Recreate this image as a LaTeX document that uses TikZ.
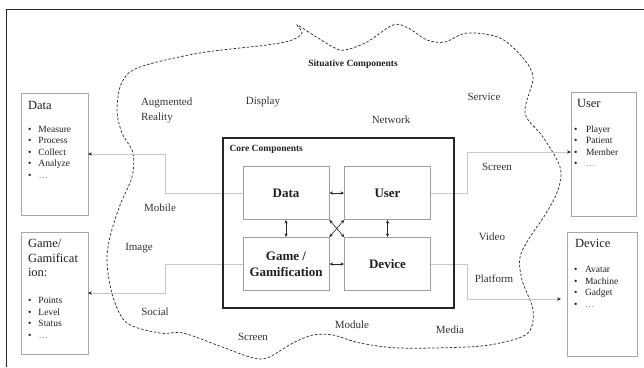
\documentclass[tikz,border=0pt]{standalone}
\usepackage{fontspec}
\setmainfont{Liberation Serif}
\usetikzlibrary{arrows.meta,shadows}
\begin{document}
\begin{tikzpicture}[x=1pt,y=-1pt,
  every node/.style={inner sep=0pt, outer sep=0pt, text=black!88},
  outbox/.style={draw=black!35, line width=0.7pt, fill=white,
    drop shadow={shadow xshift=0.9pt, shadow yshift=-0.9pt, fill=black!22, opacity=1}},
  inbox/.style={draw=black!38, line width=0.7pt, fill=white, minimum width=86pt, minimum height=53pt,
    font=\bfseries\fontsize{13}{15.7}\selectfont, align=center},
  ttl/.style={font=\fontsize{12.5}{14.5}\selectfont, anchor=base west},
  item/.style={font=\fontsize{9.5}{11.5}\selectfont, anchor=base west},
  word/.style={font=\fontsize{11}{13}\selectfont, anchor=base, text=black!80},
  bi/.style={draw=black!85, line width=0.6pt, {Stealth[length=3.4pt,width=3.4pt]}-{Stealth[length=3.4pt,width=3.4pt]}, shorten <=0.6pt, shorten >=0.6pt},
  conn/.style={draw=black!22, line width=0.6pt, -{Stealth[length=4pt,width=3.4pt,color=black!85]}},
  cloudline/.style={draw=black!80, line width=0.75pt, dash pattern=on 2.6pt off 1.8pt}
]
\useasboundingbox (0,0) rectangle (644,367);
% frame
\draw[black!85, line width=0.9pt] (6,367) -- (6,9) -- (644,9);

% cloud of situative components
\draw[cloudline] plot[smooth cycle, tension=0.55] coordinates {
 (297,25) (307,31) (333,47) (345,50) (367,42) (393,25) (408,28) (427,40) (445,42)
 (467,33) (500,38) (523,58) (533,78) (525,113) (543,137) (560,167) (558,190)
 (545,215) (530,237) (520,257) (522,280) (533,310) (528,333) (500,343) (467,347)
 (400,348) (360,343) (333,335) (313,335) (293,343) (267,358) (250,357) (217,345)
 (183,333) (160,333) (127,323) (113,297) (107,263) (110,237) (120,205) (132,177)
 (133,153) (122,133) (117,110) (122,82) (140,67) (200,53) (267,45) (292,40) (302,33)};

\node[font=\bfseries\fontsize{9.5}{11}\selectfont, anchor=base] (sitT) at (353,66.5) {Situative Components};

% situative words
\node[word, anchor=base west] (augT) at (141,105.5) {Augmented};
\node[word, anchor=base west] (realT) at (141,120) {Reality};
\node[word] (dispT) at (263,104) {Display};
\node[word] (netT) at (391,123.5) {Network};
\node[word] (servT) at (484,100.5) {Service};
\node[word] (scrRT) at (497,170.5) {Screen};
\node[word] (mobT) at (160,211.5) {Mobile};
\node[word] (imgT) at (139,250.5) {Image};
\node[word] (vidT) at (492,240.5) {Video};
\node[word] (platT) at (494,282.5) {Platform};
\node[word] (socT) at (155,315.5) {Social};
\node[word] (scrBT) at (253,340.5) {Screen};
\node[word] (modT) at (352,328.5) {Module};
\node[word] (medT) at (450,333.5) {Media};

% outer boxes
\node[outbox, minimum width=67pt, minimum height=122pt] (dataOut) at (54.5,154) {};
\node[outbox, minimum width=67pt, minimum height=122pt] (gameOut) at (54.5,293) {};
\node[outbox, minimum width=65pt, minimum height=124pt] (userOut) at (603.5,154) {};
\node[outbox, minimum width=70pt, minimum height=124pt] (devOut) at (602,294) {};

\node[ttl] (dataT) at (28,109) {Data};
\foreach \t [count=\i] in {Measure,Process,Collect,Analyze,{\color{black!50}…}}
  \node[item] (dItem\i) at (28,{132+11.5*(\i-1)}) {\makebox[10.5pt][l]{•}\t};

\node[ttl] (gameT1) at (28,247.5) {Game/};
\node[ttl] (gameT2) at (28,262) {Gamificat};
\node[ttl] (gameT3) at (28,276.5) {ion:};
\foreach \t [count=\i] in {Points,Level,Status,{\color{black!50}…}}
  \node[item] (gItem\i) at (28,{303.5+11.5*(\i-1)}) {\makebox[10.5pt][l]{•}\t};

\node[ttl] (userT) at (577,107.5) {User};
\foreach \t [count=\i] in {Player,Patient,Member,{\color{black!50}…}}
  \node[item] (uItem\i) at (574,{132+11.5*(\i-1)}) {\makebox[12pt][l]{•}\t};

\node[ttl] (devT) at (575,247.5) {Device};
\foreach \t [count=\i] in {Avatar,Machine,Gadget,{\color{black!50}…}}
  \node[item] (vItem\i) at (574,{272.5+11.5*(\i-1)}) {\makebox[11pt][l]{•}\t};

% bend positions
\coordinate (bl) at (165,0);
\coordinate (br) at (467.5,0);

% inner boxes
\node[inbox] (dataIn) at (286,193) {Data};
\node[inbox] (userIn) at (387.5,193) {User};
\node[inbox] (gameIn) at (286,264) {Game /\\Gamification};
\node[inbox] (devIn) at (387.5,264) {Device};

% connectors to outer boxes
\draw[conn] (dataIn.west) -- (dataIn.west -| bl) |- (dataOut.east);
\draw[conn] (gameIn.west) -- (gameIn.west -| bl) |- (gameOut.east);
\draw[conn] (userIn.east) -- (userIn.east -| br) |- ([yshift=2pt]userOut.west);
\draw[conn] (devIn.east) -- (devIn.east -| br) |- ([xshift=-6pt,yshift=-5pt]devOut.west);

% core box
\node[draw=black!85, line width=1.3pt, minimum width=231pt, minimum height=170pt] (core) at (338.5,223) {};
\node[font=\bfseries\fontsize{9.5}{11}\selectfont, anchor=base west] (coreT) at (229.5,151.5) {Core Components};

% inner arrows
\draw[bi] (dataIn.east) -- (userIn.west);
\draw[bi] (gameIn.east) -- (devIn.west);
\draw[bi] (dataIn.south) -- (gameIn.north);
\draw[bi] (userIn.south) -- (devIn.north);
\draw[bi] (dataIn.south east) -- (devIn.north west);
\draw[bi] (userIn.south west) -- (gameIn.north east);
\end{tikzpicture}
\end{document}
